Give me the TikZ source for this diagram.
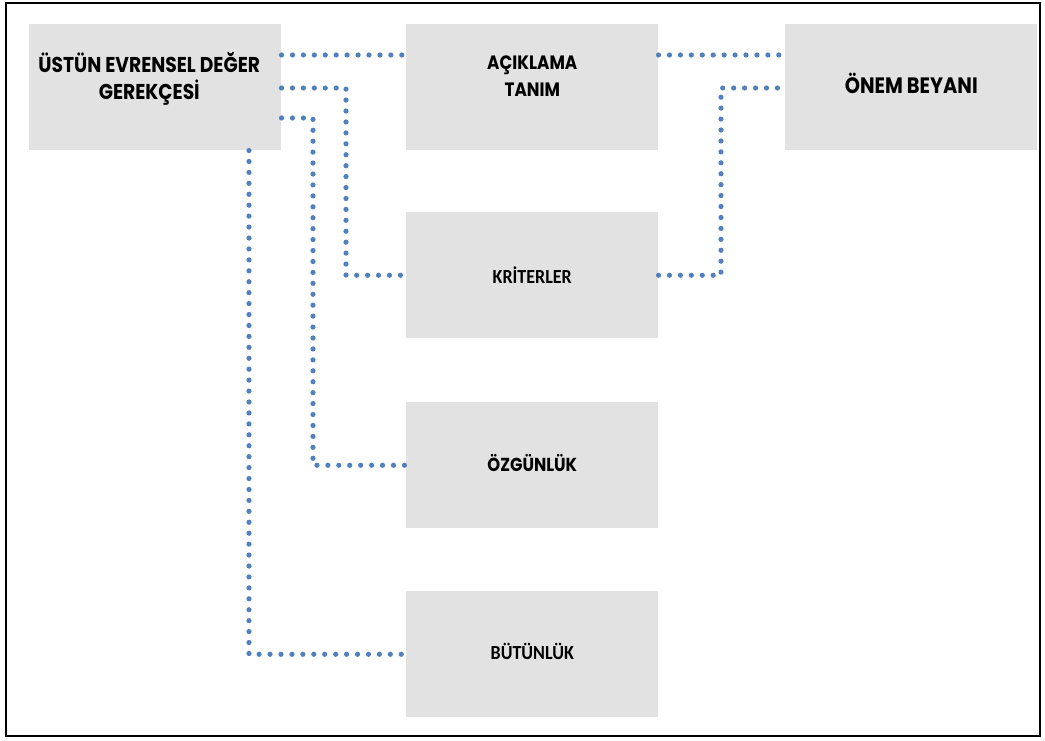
\documentclass[tikz,border=0pt]{standalone}
\usepackage{fontspec}
\newfontfamily\geofont{Poppins}[FakeStretch=0.87]
\newfontfamily\calfont{Carlito Bold}[FakeStretch=0.9]
\usetikzlibrary{calc}
\definecolor{boxgray}{RGB}{226,226,226}
\definecolor{dotblue}{RGB}{80,128,190}
\tikzset{
  box/.style={fill=boxgray, draw=none, minimum width=189pt, minimum height=94.5pt, anchor=north west, inner sep=0pt},
  geolbl/.style={font=\geofont\bfseries\fontsize{#1}{20}\selectfont, align=center, inner sep=0pt},
  geolbl/.default=14,
  callbl/.style={font=\calfont\fontsize{15}{20}\selectfont, align=center, inner sep=0pt},
  dots/.style={draw=dotblue, line width=3.9pt, line cap=round, dash pattern=on 0pt off 8.2pt},
}
\begin{document}
\begin{tikzpicture}[x=0.75pt, y=-0.75pt]
\useasboundingbox (0,0) rectangle (1045,740);
\draw[line width=1.6pt, draw=black] (6,3) rectangle (1040,736);

\node[box] (u) at (29,24) {};
\node[box] (a) at (406,24) {};
\node[box] (o) at (785,24) {};
\node[box] (k) at (406,212) {};
\node[box] (z) at (406,402) {};
\node[box] (b) at (406,591) {};

\node[geolbl=16.1] (ut) at ($(u.north)+(-6,55)$) {ÜSTÜN EVRENSEL DEĞER\\GEREKÇESİ};
\node[geolbl=14.5] (at) at ($(a.north)+(0,52)$) {AÇIKLAMA\\TANIM};
\node[geolbl=16.7] (ot) at ($(o.north)+(0,59)$) {ÖNEM BEYANI};
\node[callbl] (kt) at ($(k.north)+(0,63)$) {KRİTERLER};
\node[geolbl=14.1] (zt) at ($(z.north)+(0,61)$) {ÖZGÜNLÜK};
\node[callbl] (bt) at ($(b.north)+(0,60)$) {BÜTÜNLÜK};

\draw[dots] ($(u.north east)+(0,31)$) -- ($(a.north west)+(0,31)$);
\draw[dots] ($(u.north east)+(0,64)$) -| ($(k.west)+(-60,0)$) -- (k.west);
\draw[dots] ($(u.north east)+(0,94)$) -| ($(z.west)+(-93,0)$) -- (z.west);
\draw[dots] ($(u.south west)+(220,0)$) |- (b.west);
\draw[dots] ($(a.north east)+(0,31)$) -- ($(o.north west)+(0,31)$);
\draw[dots] (k.east) -| ($(o.north west)+(-64,64)$) -- ($(o.north west)+(0,64)$);
\end{tikzpicture}
\end{document}
